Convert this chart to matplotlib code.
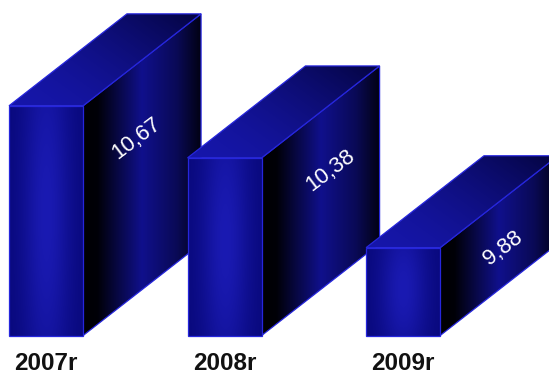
import numpy as np
import matplotlib
matplotlib.use("Agg")
import matplotlib.pyplot as plt
from matplotlib.patches import Polygon
from matplotlib.colors import to_rgb

# Data
years = ["2007r", "2008r", "2009r"]
values = [10.67, 10.38, 9.88]
value_labels = ["10,67", "10,38", "9,88"]

# Geometry of the 3D boxes (x in category units, y in value units)
BASE = 9.391          # value at the floor of the boxes
FRONT_W = 0.415       # width of the front face
DEPTH_X = 0.661       # horizontal offset of the back face
DEPTH_Y = 0.512       # vertical offset of the back face (value units)

# Where each value label sits on its side face: fraction of the depth,
# and drop below the top edge (value units)
label_frac = [0.45, 0.58, 0.53]
label_drop = [0.41, 0.365, 0.275]

EDGE = "#2626dc"

fig = plt.figure(figsize=(5.49, 3.74), dpi=100)
ax = fig.add_axes([0, 0, 1, 1])
ax.set_xlim(-0.0504, 3.025)
ax.set_ylim(9.177, 11.259)
ax.axis("off")


def lerp_colors(c0, c1, t):
    a = np.array(to_rgb(c0))
    b = np.array(to_rgb(c1))
    t = np.clip(t, 0, 1)[..., None]
    return a + (b - a) * t


def shaded_face(verts, img, zorder):
    verts = np.asarray(verts)
    poly = Polygon(verts, closed=True, facecolor="none", edgecolor=EDGE,
                   linewidth=0.9, zorder=zorder + 0.5)
    ax.add_patch(poly)
    clip = Polygon(verts, closed=True, facecolor="none", edgecolor="none",
                   transform=ax.transData)
    ax.add_patch(clip)
    x0, y0 = verts.min(axis=0)
    x1, y1 = verts.max(axis=0)
    im = ax.imshow(img, extent=(x0, x1, y0, y1), origin="lower",
                   aspect="auto", interpolation="bilinear", zorder=zorder)
    im.set_clip_path(clip)


n = 120
gx, gy = np.meshgrid(np.linspace(0, 1, n), np.linspace(0, 1, n))

# Front face: darker at the sides, lighter in the middle
front_t = np.exp(-((gx - 0.5) / 0.33) ** 2) * (0.55 + 0.45 * np.sin(np.pi * (0.15 + 0.75 * (1 - gy))))
front_img = lerp_colors("#08087a", "#1a1ab2", front_t)

# Top face: saturated blue at the front-left, fading to dark towards the back-right
top_t = 0.6 * gx + 0.4 * gy
top_img = lerp_colors("#1616aa", "#040440", top_t ** 1.6)

# Side face: black near the front edge, blue in the middle, dark at the back
side_prof = np.interp(gx, [0, 0.12, 0.5, 0.8, 1.0], [0.0, 0.02, 1.0, 0.6, 0.12])
side_img = lerp_colors("#000004", "#10108c", side_prof)

for i, (v, lab, vl) in enumerate(zip(values, years, value_labels)):
    z = 10 * (i + 1)
    xl = i
    xr = i + FRONT_W
    top = v
    # side face
    side = [(xr, BASE), (xr + DEPTH_X, BASE + DEPTH_Y),
            (xr + DEPTH_X, top + DEPTH_Y), (xr, top)]
    shaded_face(side, side_img, z)
    # top face
    topf = [(xl, top), (xr, top), (xr + DEPTH_X, top + DEPTH_Y),
            (xl + DEPTH_X, top + DEPTH_Y)]
    shaded_face(topf, top_img, z + 1)
    # front face
    front = [(xl, BASE), (xr, BASE), (xr, top), (xl, top)]
    shaded_face(front, front_img, z + 2)

    # value label on the side face
    frac = label_frac[i]
    lx = xr + frac * DEPTH_X
    drop = min(label_drop[i], 0.6 * (v - BASE))
    ly = top + frac * DEPTH_Y - drop
    ax.text(lx, ly, vl, color="white", fontsize=16, family="Liberation Sans",
            rotation=37, rotation_mode="anchor", ha="center", va="center",
            zorder=z + 5)

    # category label under the front face
    ax.text(xl + FRONT_W / 2, 9.198, lab, color="#111111", fontsize=17.5,
            fontweight="bold", family="Liberation Sans", ha="center",
            va="baseline", zorder=50)

fig.savefig("out.png", dpi=100, facecolor="white")
